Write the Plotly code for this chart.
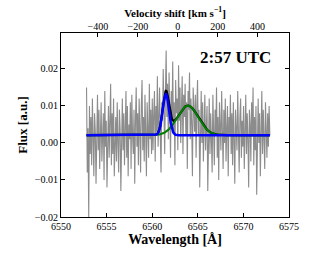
import numpy as np
import plotly.graph_objects as go

# ---- data ----
flux_milli = [
    # 6552.8 - 6556
    15, -8, 4, -20, 10, -3, 7, -6, 12, 1, -9, 8, 3, -11, 6, 13, -2, 9, -7, 4,
    11, -5, 2, 8, -10, 14, -1, 6, -12, 5, 10, -4, 3, 16, -6, 8, -3, 12, -9, 2,
    # 6556 - 6560
    7, -5, 11, 0, -8, 9, 4, -13, 6, 12, -2, 8, -6, 3, 14, -4, 10, -9, 5, 1,
    11, -7, 13, 2, -3, 9, -11, 6, 15, -1, 8, -6, 12, 4, -8, 10, 17, -2, 7, -5,
    13, 3, -9, 11, 6, -4, 16, 1, 9, -3,
    # 6560 - 6566
    12, -2, 8, 14, -5, 10, 3, 18, -1, 9, 15, 2, -8, 11, 6, 20, 4, -3, 13, 25,
    7, 16, 1, 19, 9, -4, 14, 5, 22, 3, 11, -6, 17, 8, 12, -2, 21, 6, 15, 0,
    10, 18, -3, 13, 7, 16, 2, 11, -7, 14, 9, 19, 1, 12, 5, -9, 15, 8, 3, 13,
    -4, 10, 17, 2, 9, -12, 7, 14, 0, 11, -5, 8, 13, -2, 6,
    # 6566 - 6573
    10, -13, 4, 12, -3, 8, 1, -8, 13, 5, -6, 9, 2, 15, -4, 7, -10, 11, 3, -2,
    14, 6, -7, 9, 0, 12, -5, 4, 10, -9, 7, 2, 13, -3, 8, -6, 11, 1, -11, 9,
    5, -2, 14, 3, -8, 7, 12, -4, 6, -1, 10, -7, 4, 13, -3, 8, 1, -12, 9, 5,
    -5, 11, 2, 15, -6, 7, -2, 10, -14, 4, 12, 0, 8, -9, 6, 14, -3, 9, 1, -7,
    11, 3, -4, 8, -1, 10, 2,
]
wave_start, wave_end = 6552.8, 6572.9

# fitted model parameters
continuum = 0.0021
narrow_amp, narrow_center, narrow_sigma = 0.0111, 6561.5, 0.35
broad_amp, broad_center, broad_sigma = 0.0080, 6563.9, 1.15
rest_wavelength = 6562.8
c_kms = 299792.458

x_ticks = [6550, 6555, 6560, 6565, 6570, 6575]
y_ticks = [-0.02, -0.01, 0.00, 0.01, 0.02]
y_tick_labels = ["−0.02", "−0.01", "0.00", "0.01", "0.02"]
v_ticks = [-400, -200, 0, 200, 400]
v_tick_labels = ["−400", "−200", "0", "200", "400"]
label_text = "2:57 UTC"

# ---- build ----
flux = np.array(flux_milli) * 1e-3
wave = np.linspace(wave_start, wave_end, len(flux))
model_wave = np.linspace(wave_start, wave_end, 600)
narrow = continuum + narrow_amp * np.exp(-0.5 * ((model_wave - narrow_center) / narrow_sigma) ** 2)
broad = continuum + broad_amp * np.exp(-0.5 * ((model_wave - broad_center) / broad_sigma) ** 2)
total = narrow + broad - continuum

xr = [6550, 6575]
vr = [(w - rest_wavelength) / rest_wavelength * c_kms for w in xr]

font = "Liberation Serif"
fig = go.Figure()
fig.add_trace(go.Scatter(x=wave, y=flux, mode="lines", line=dict(color="#8c8c8c", width=1.1), hoverinfo="skip"))
fig.add_trace(go.Scatter(x=model_wave, y=total, mode="lines", line=dict(color="black", width=2.2)))
fig.add_trace(go.Scatter(x=model_wave, y=broad, mode="lines", line=dict(color="#008000", width=2)))
fig.add_trace(go.Scatter(x=model_wave, y=narrow, mode="lines", line=dict(color="#0000ff", width=2.5)))
# invisible trace for the top axis
fig.add_trace(go.Scatter(x=vr, y=[0, 0], xaxis="x2", mode="lines", line=dict(width=0), opacity=0, hoverinfo="skip"))

fig.update_layout(
    width=311, height=256,
    margin=dict(l=61, r=19, t=29, b=34),
    paper_bgcolor="white", plot_bgcolor="white",
    showlegend=False,
    font=dict(family=font, size=10, color="black"),
    xaxis=dict(range=xr, tickvals=x_ticks, ticks="inside", ticklen=4, tickcolor="black",
               showline=True, linecolor="black", linewidth=1, mirror=True,
               showgrid=False, zeroline=False,
               title=dict(text="<b>Wavelength [Å]</b>", font=dict(size=14), standoff=2)),
    xaxis2=dict(range=vr, overlaying="x", side="top", tickvals=v_ticks, ticktext=v_tick_labels,
                ticks="inside", ticklen=4, tickcolor="black", showgrid=False, zeroline=False,
                showline=False,
                title=dict(text="<b>Velocity shift [km s<sup>−1</sup>]</b>", font=dict(size=11), standoff=1)),
    yaxis=dict(range=[-0.02, 0.0297], tickvals=y_ticks, ticktext=y_tick_labels,
               ticks="inside", ticklen=4, tickcolor="black",
               showline=True, linecolor="black", linewidth=1, mirror="ticks",
               showgrid=False, zeroline=False,
               title=dict(text="<b>Flux [a.u.]</b>", font=dict(size=13), standoff=4)),
)
fig.add_annotation(x=6569.1, y=0.0232, xref="x", yref="y", text="<b>" + label_text + "</b>",
                   showarrow=False, font=dict(size=17, family=font))
fig.write_html("out.html", config={"displayModeBar": False},
               post_script="document.body.style.margin='0';document.body.style.overflow='hidden';")
